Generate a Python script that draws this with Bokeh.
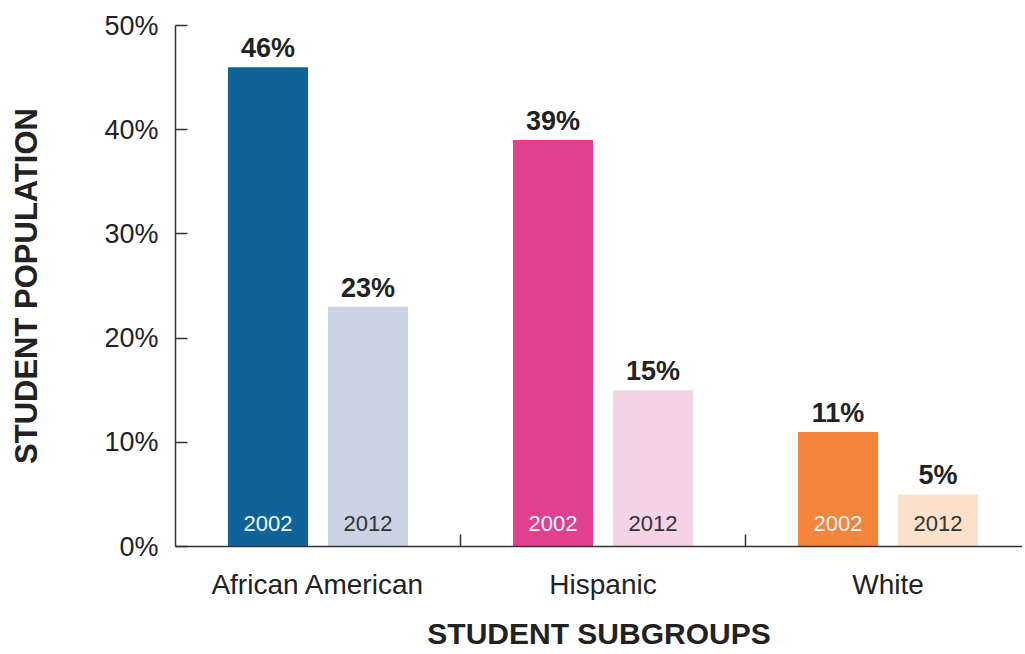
from bokeh.plotting import figure
from bokeh.models import ColumnDataSource, FixedTicker, Range1d, PrintfTickFormatter
from bokeh.core.properties import value
from bokeh.embed import file_html
from bokeh.resources import INLINE

groups = ["African American", "Hispanic", "White"]
years = ["2002", "2012"]
pct_2002 = [46, 39, 11]
pct_2012 = [23, 15, 5]
colors_2002 = ["#0f6398", "#e0408e", "#f5853a"]
colors_2012 = ["#c9d3e3", "#f5d3e6", "#fbe1c9"]
year_text_colors = ["#eef7f9", "#333333"]
y_ticks = [0, 10, 20, 30, 40, 50]

FONT = value("Liberation Sans")
dodge = 50 / 285.0
bar_w = 80 / 285.0

xs, tops, cols, labels, yrs, ycols = [], [], [], [], [], []
for i, g in enumerate(groups):
    for j, (vals, cs) in enumerate([(pct_2002, colors_2002), (pct_2012, colors_2012)]):
        xs.append(i + (-dodge if j == 0 else dodge))
        tops.append(vals[i])
        cols.append(cs[i])
        labels.append(f"{vals[i]}%")
        yrs.append(years[j])
        ycols.append(year_text_colors[j])

src = ColumnDataSource(dict(x=xs, top=tops, color=cols, label=labels,
                            year=yrs, ycol=ycols, zero=[0] * len(xs)))

p = figure(width=1022, height=652, output_backend="svg", toolbar_location=None,
           x_range=Range1d(-0.5, -0.5 + 847 / 285.0), y_range=Range1d(0, 50),
           min_border_left=175, min_border_right=0, min_border_top=25,
           min_border_bottom=106)
p.outline_line_color = None
p.grid.visible = False
p.background_fill_color = "white"
p.border_fill_color = "white"

p.vbar(x="x", top="top", width=bar_w, bottom=0, fill_color="color",
       line_color=None, source=src)

p.text(x="x", y="top", text="label", source=src, y_offset=-19,
       text_align="center", text_baseline="alphabetic", text_font=FONT,
       text_font_style="bold", text_font_size="27px", text_color="#222222")

p.text(x="x", y="zero", text="year", source=src, y_offset=-23,
       text_align="center", text_baseline="alphabetic", text_font=FONT,
       text_font_size="22px", text_color="ycol")

# Y axis
ya = p.yaxis[0]
ya.ticker = FixedTicker(ticks=y_ticks, minor_ticks=[])
ya.formatter = PrintfTickFormatter(format="%d%%")
ya.major_tick_in = 12
ya.major_tick_out = 0
ya.minor_tick_line_color = None
ya.axis_line_color = "#333333"
ya.axis_line_width = 1.5
ya.major_tick_line_color = "#333333"
ya.major_tick_line_width = 1.5
ya.major_label_text_font = "Liberation Sans"
ya.major_label_text_font_size = "27px"
ya.major_label_text_color = "#222222"
ya.major_label_standoff = 17
ya.axis_label = "STUDENT POPULATION"
ya.axis_label_text_font = "Liberation Sans"
ya.axis_label_text_font_style = "bold"
ya.axis_label_text_font_size = "31px"
ya.axis_label_text_color = "#222222"
ya.axis_label_standoff = 57

# X axis
xa = p.xaxis[0]
xa.ticker = FixedTicker(ticks=[0, 1, 2], minor_ticks=[0.5, 1.5])
xa.major_label_overrides = {i: g for i, g in enumerate(groups)}
xa.major_tick_in = 0
xa.major_tick_out = 0
xa.major_tick_line_color = None
xa.minor_tick_in = 12
xa.minor_tick_out = 0
xa.minor_tick_line_color = "#333333"
xa.minor_tick_line_width = 1.5
xa.axis_line_color = "#333333"
xa.axis_line_width = 1.5
xa.major_label_text_font = "Liberation Sans"
xa.major_label_text_font_size = "28px"
xa.major_label_text_color = "#222222"
xa.major_label_standoff = 22
xa.axis_label = "STUDENT SUBGROUPS"
xa.axis_label_text_font = "Liberation Sans"
xa.axis_label_text_font_style = "bold"
xa.axis_label_text_font_size = "30px"
xa.axis_label_text_color = "#222222"
xa.axis_label_standoff = 14

open("out.html", "w").write(file_html(p, INLINE))
